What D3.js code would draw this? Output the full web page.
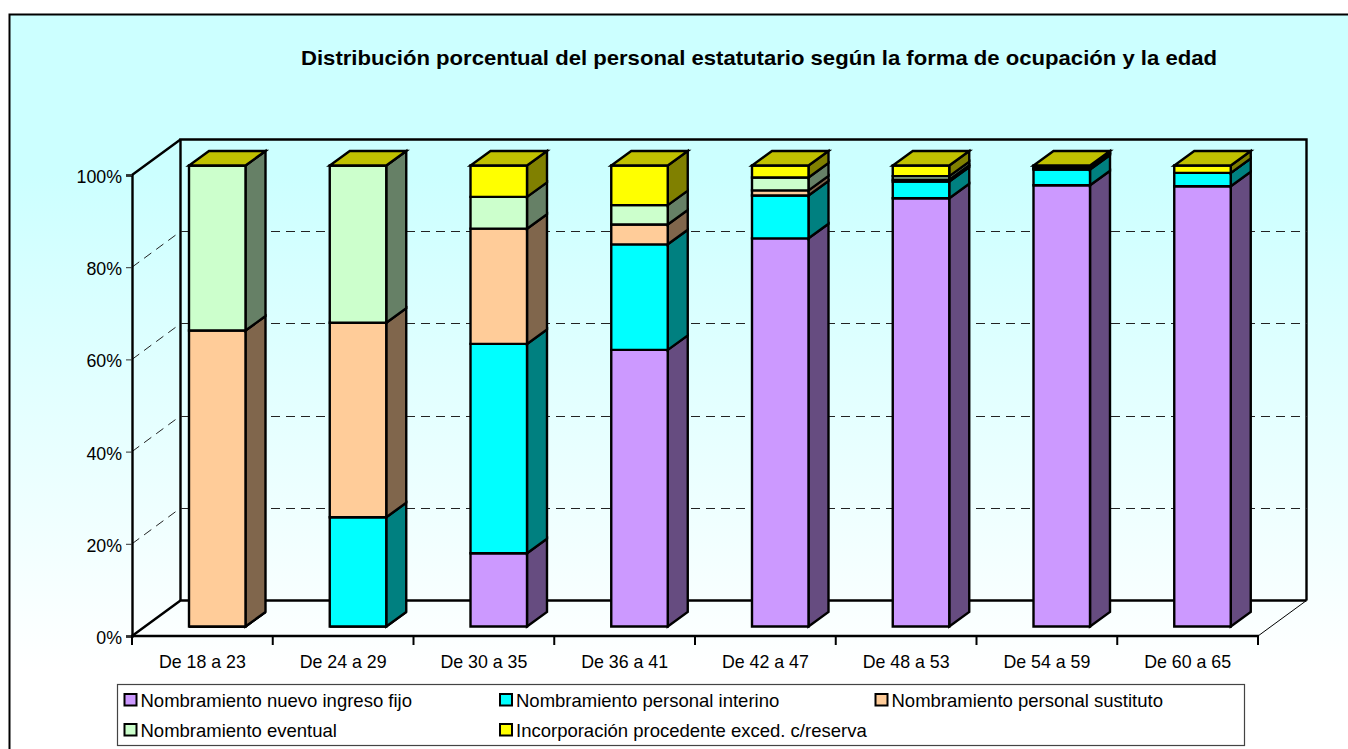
<!DOCTYPE html>
<html>
<head>
<meta charset="utf-8">
<script src="https://d3js.org/d3.v7.min.js"></script>
<style>
  html, body { margin: 0; padding: 0; background: #fff; overflow: hidden; }
  svg { display: block; font-family: "Liberation Sans", Arial, sans-serif; }
</style>
</head>
<body>
<script>
const categories = ["De 18 a 23", "De 24 a 29", "De 30 a 35", "De 36 a 41", "De 42 a 47", "De 48 a 53", "De 54 a 59", "De 60 a 65"];
const fijo = [0, 0, 15.9, 60, 84.2, 92.9, 95.7, 95.5];
const interino = [0, 23.7, 45.4, 22.9, 9.3, 3.6, 3.4, 2.9];
const sustituto = [64.2, 42.2, 25, 4.3, 1.1, 0.4, 0.2, 0];
const eventual = [35.8, 34.1, 6.9, 4.2, 2.8, 0.8, 0.2, 0];
const incorporacion = [0, 0, 6.8, 8.6, 2.6, 2.3, 0.5, 1.6];
const yTicks = [0, 20, 40, 60, 80, 100];

const seriesNames = ["Nombramiento nuevo ingreso fijo", "Nombramiento personal interino", "Nombramiento personal sustituto", "Nombramiento eventual", "Incorporación procedente exced. c/reserva"];
const seriesValues = [fijo, interino, sustituto, eventual, incorporacion];
const frontColors = ["#CC99FF", "#00FFFF", "#FFCC99", "#CCFFCC", "#FFFF00"];
const sideColors = ["#664C80", "#008080", "#80664C", "#668066", "#808000"];
const topColor = "#C0C000";

const svg = d3.select("body").append("svg")
  .attr("width", 1348)
  .attr("height", 749);

const defs = svg.append("defs");
const grad = defs.append("linearGradient")
  .attr("id", "bg")
  .attr("x1", 0).attr("y1", 0).attr("x2", 0).attr("y2", 1);
grad.append("stop").attr("offset", "0").attr("stop-color", "#CCFFFF");
grad.append("stop").attr("offset", "0.2").attr("stop-color", "#CCFFFF");
grad.append("stop").attr("offset", "0.82").attr("stop-color", "#FFFFFF");

svg.append("rect")
  .attr("x", 9.5).attr("y", 14.5)
  .attr("width", 1400).attr("height", 800)
  .attr("fill", "url(#bg)")
  .attr("stroke", "#000")
  .attr("stroke-width", 2);

svg.append("text")
  .attr("x", 301).attr("y", 64.5)
  .attr("textLength", 916)
  .attr("lengthAdjust", "spacingAndGlyphs")
  .attr("font-size", "21px")
  .attr("font-weight", "bold")
  .attr("fill", "#000")
  .text("Distribución porcentual del personal estatutario según la forma de ocupación y la edad");

// plot frame: front axis plane and the offset of the back wall
const x0 = 132, x1 = 1258, y0 = 636, y1 = 175;
const wallDx = 48.5, wallDy = -35.5;
const barInset = 57, barDx = 20, barDy = -14.5, barShift = -9.5;

const x = d3.scaleBand().domain(categories).range([x0, x1]).paddingInner(0).paddingOuter(0);
const y = d3.scaleLinear().domain([0, 100]).range([y0, y1]);
const barWidth = 56.5;

const path = pts => "M" + pts.map(p => p.join(",")).join("L") + "Z";

// walls
const walls = svg.append("g").attr("fill", "none").attr("stroke", "#000");
walls.append("path")
  .attr("stroke-width", 2.4)
  .attr("d", `M${x0 + wallDx},${y0 + wallDy}L${x0 + wallDx},${y1 + wallDy}L${x1 + wallDx},${y1 + wallDy}L${x1 + wallDx},${y0 + wallDy}`);
walls.append("path")
  .attr("stroke-width", 2.4)
  .attr("d", `M${x0},${y1}L${x0 + wallDx},${y1 + wallDy}M${x0},${y0}L${x0 + wallDx},${y0 + wallDy}L${x1 + wallDx},${y0 + wallDy}`);
walls.append("path")
  .attr("stroke-width", 1)
  .attr("d", `M${x1},${y0}L${x1 + wallDx},${y0 + wallDy}`);

// gridlines on the side and back walls
const gridTicks = yTicks.filter(d => d > 0 && d < 100);
svg.append("g").selectAll("path")
  .data(gridTicks)
  .join("path")
  .attr("fill", "none")
  .attr("stroke", "#222")
  .attr("stroke-width", 1)
  .attr("stroke-dasharray", "9,6")
  .attr("shape-rendering", "crispEdges")
  .attr("d", d => `M${x0 + wallDx},${y(d) + wallDy}L${x1 + wallDx},${y(d) + wallDy}`);
svg.append("g").selectAll("path")
  .data(gridTicks)
  .join("path")
  .attr("fill", "none")
  .attr("stroke", "#222")
  .attr("stroke-width", 1)
  .attr("stroke-dasharray", "9,6")
  .attr("d", d => `M${x0},${y(d)}L${x0 + wallDx - 3},${y(d) + wallDy + 2}`);

// stacked 3d bars
const stack = d3.stack().keys(d3.range(seriesValues.length)).value((d, k) => seriesValues[k][d]);
const layers = stack(d3.range(categories.length));

const bars = svg.append("g")
  .attr("stroke", "#000")
  .attr("stroke-width", 2.4)
  .attr("stroke-linejoin", "miter");

categories.forEach((cat, i) => {
  const left = x(cat) + barInset;
  const g = bars.append("g");
  layers.forEach((layer, k) => {
    const yb = y(layer[i][0]) + barShift;
    const yt = y(layer[i][1]) + barShift;
    const right = left + barWidth;
    g.append("path").attr("fill", sideColors[k])
      .attr("d", path([[right, yb], [right + barDx, yb + barDy], [right + barDx, yt + barDy], [right, yt]]));
    g.append("path").attr("fill", frontColors[k])
      .attr("d", path([[left, yb], [right, yb], [right, yt], [left, yt]]));
  });
  const yTop = y(layers[layers.length - 1][i][1]) + barShift;
  g.append("path").attr("fill", topColor)
    .attr("d", path([[left, yTop], [left + barWidth, yTop], [left + barWidth + barDx, yTop + barDy], [left + barDx, yTop + barDy]]));
});

// axes
const yAxis = d3.axisLeft(y).tickValues(yTicks).tickFormat(d => d + "%").tickSize(6).tickPadding(4);
const yG = svg.append("g").attr("transform", `translate(${x0},0)`).call(yAxis);
yG.select(".domain").attr("stroke", "#000").attr("stroke-width", 2.4);
yG.selectAll("line").attr("stroke", "#333").attr("stroke-width", 1);
yG.selectAll("text").attr("font-size", "17.8px").attr("font-family", "Liberation Sans").attr("fill", "#000").attr("dy", "0.42em");

const xAxis = d3.axisBottom(x).tickSize(0).tickPadding(19);
const xG = svg.append("g").attr("transform", `translate(0,${y0})`).call(xAxis);
xG.select(".domain").remove();
xG.selectAll("text").attr("font-size", "17.8px").attr("font-family", "Liberation Sans").attr("fill", "#000");

svg.append("line")
  .attr("x1", x0 - 1).attr("x2", x1 + 1).attr("y1", y0).attr("y2", y0)
  .attr("stroke", "#000").attr("stroke-width", 2.4);
svg.append("g").selectAll("line")
  .data(categories.concat("end"))
  .join("line")
  .attr("x1", d => d === "end" ? x1 : x(d))
  .attr("x2", d => d === "end" ? x1 : x(d))
  .attr("y1", y0).attr("y2", y0 + 9)
  .attr("stroke", "#000").attr("stroke-width", 2);

// legend
svg.append("rect")
  .attr("x", 117.5).attr("y", 684.5)
  .attr("width", 1127).attr("height", 61)
  .attr("fill", "#fff")
  .attr("stroke", "#444")
  .attr("stroke-width", 1.2);

const legendX = [124.5, 500, 875.5, 124.5, 500];
const legendY = [694, 694, 694, 724, 724];
const legend = svg.append("g").selectAll("g")
  .data(seriesNames)
  .join("g")
  .attr("transform", (d, i) => `translate(${legendX[i]},${legendY[i]})`);
legend.append("rect")
  .attr("width", 12).attr("height", 11.5)
  .attr("fill", (d, i) => frontColors[i])
  .attr("stroke", "#000")
  .attr("stroke-width", 2);
legend.append("text")
  .attr("x", 16).attr("y", 12.5)
  .attr("font-size", "18.5px")
  .attr("fill", "#000")
  .text(d => d);
</script>
</body>
</html>
